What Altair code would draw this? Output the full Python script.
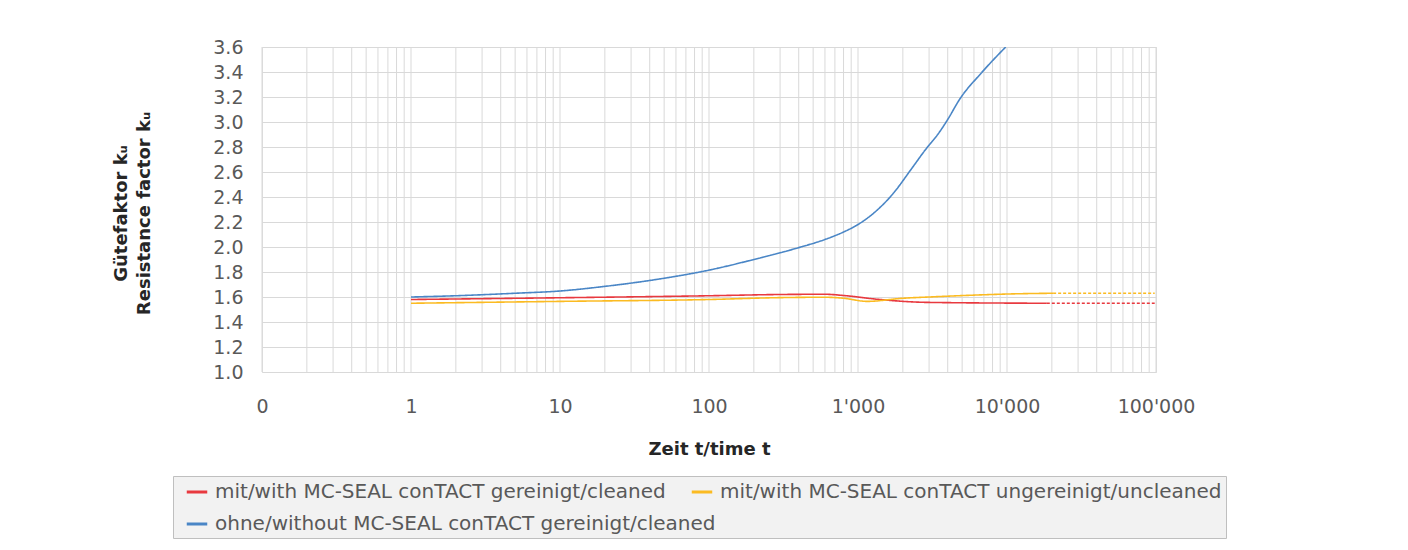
import altair as alt
import pandas as pd

# ---- data ----
series_names = [
    "mit/with MC-SEAL conTACT gereinigt/cleaned",
    "mit/with MC-SEAL conTACT ungereinigt/uncleaned",
    "ohne/without MC-SEAL conTACT gereinigt/cleaned",
]
series_colors = ["#e8393f", "#fbbb22", "#4a86c6"]

red_t = [1, 10, 100, 300, 600, 800, 1400, 2900, 18500]
red_v = [1.58, 1.594, 1.61, 1.62, 1.622, 1.612, 1.58, 1.557, 1.55]
red_dash_t = [18500, 98000]
red_dash_v = [1.55, 1.55]

yellow_t = [1, 10, 100, 300, 600, 800, 1150, 2000, 3000, 6000, 11000, 20400]
yellow_v = [1.55, 1.565, 1.58, 1.595, 1.598, 1.59, 1.565, 1.59, 1.60, 1.615, 1.625, 1.63]
yellow_dash_t = [20400, 98000]
yellow_dash_v = [1.63, 1.63]

blue_t = [1, 2, 5, 10, 20, 50, 100, 200, 400, 600, 800, 1000, 1300, 1700, 2300, 2800,
          3500, 4000, 4800, 6700, 9800]
blue_v = [1.60, 1.61, 1.63, 1.648, 1.685, 1.75, 1.815, 1.90, 1.995, 2.06, 2.12, 2.18,
          2.28, 2.42, 2.63, 2.77, 2.915, 3.02, 3.18, 3.39, 3.60]

x_tick_values = [0.1, 1, 10, 100, 1000, 10000, 100000]
x_tick_labels = ["0", "1", "10", "100", "1'000", "10'000", "100'000"]
x_minor_grid = [m * 10 ** e for e in range(-1, 5) for m in range(1, 10)] + [100000]
y_tick_values = [1.0, 1.2, 1.4, 1.6, 1.8, 2.0, 2.2, 2.4, 2.6, 2.8, 3.0, 3.2, 3.4, 3.6]

rows = []
for name, ts, vs, seg in [
    (series_names[0], red_t, red_v, "solid"),
    (series_names[0], red_dash_t, red_dash_v, "dashed"),
    (series_names[1], yellow_t, yellow_v, "solid"),
    (series_names[1], yellow_dash_t, yellow_dash_v, "dashed"),
    (series_names[2], blue_t, blue_v, "solid"),
]:
    for t, v in zip(ts, vs):
        rows.append({"t": t, "v": v, "series": name, "seg": seg})
df = pd.DataFrame(rows)
grid_df = pd.DataFrame({"g": x_minor_grid})

label_expr = " : ".join(
    f"datum.value == {v} ? \"{l}\"" for v, l in zip(x_tick_values, x_tick_labels)
) + " : ''"

FONT = "DejaVu Sans"

x_scale = alt.Scale(type="log", domain=[0.1, 100000], nice=False)
y_scale = alt.Scale(domain=[1.0, 3.6], nice=False, zero=False)

grid = alt.Chart(grid_df).mark_rule(color="#d9d9d9", strokeWidth=1).encode(
    x=alt.X("g:Q", scale=x_scale,
            axis=alt.Axis(values=x_tick_values, labelExpr=label_expr, grid=False,
                          ticks=False, domain=False, labelFontSize=19,
                          labelColor="#595959", labelFont=FONT, labelPadding=25,
                          labelFlush=False, labelOverlap=False,
                          title="Zeit t/time t", titleFont=FONT, titleFontSize=18,
                          titleFontWeight="bold", titleColor="#262626",
                          titleY=77, titleBaseline="middle")),
    y=alt.value(0),
    y2=alt.value(325),
)

lines = alt.Chart(df).mark_line(strokeWidth=1.6, clip=True, interpolate="monotone").encode(
    x=alt.X("t:Q", scale=x_scale),
    y=alt.Y("v:Q", scale=y_scale,
            axis=alt.Axis(values=y_tick_values, format=".1f", ticks=False, domain=False,
                          gridColor="#d9d9d9", labelFontSize=19, labelColor="#595959",
                          labelFont=FONT, labelPadding=19,
                          title=["Gütefaktor kᵤ", "Resistance factor kᵤ"],
                          titleFont=FONT, titleFontSize=18, titleFontWeight="bold",
                          titleColor="#262626", titleAngle=270, titleX=-141, titleY=166,
                          titleBaseline="middle", titleLineHeight=23)),
    color=alt.Color("series:N",
                    scale=alt.Scale(domain=series_names, range=series_colors),
                    legend=alt.Legend(title=None, columns=2, direction="horizontal",
                                      gridAlign="none", orient="none",
                                      legendX=-89, legendY=429,
                                      fillColor="#f2f2f2", strokeColor="#bfbfbf",
                                      padding=4, symbolOffset=8, symbolType="stroke",
                                      symbolSize=420, symbolStrokeWidth=3,
                                      labelFontSize=20, labelFont=FONT,
                                      labelColor="#595959", labelLimit=800,
                                      columnPadding=-34, rowPadding=10,
                                      labelOffset=6)),
    strokeDash=alt.StrokeDash("seg:N",
                              scale=alt.Scale(domain=["solid", "dashed"],
                                              range=[[1, 0], [3, 2]]),
                              legend=None),
    detail="seg:N",
)

chart = alt.layer(grid, lines).properties(
    width=894, height=325,
    autosize=alt.AutoSizeParams(type="none"),
    padding={"left": 254, "top": 39, "right": 244, "bottom": 170},
).configure_view(fill="#f2f2f2", stroke="#d9d9d9").configure(background="white")

chart.save("out.html", embed_options={"renderer": "svg", "actions": False})
